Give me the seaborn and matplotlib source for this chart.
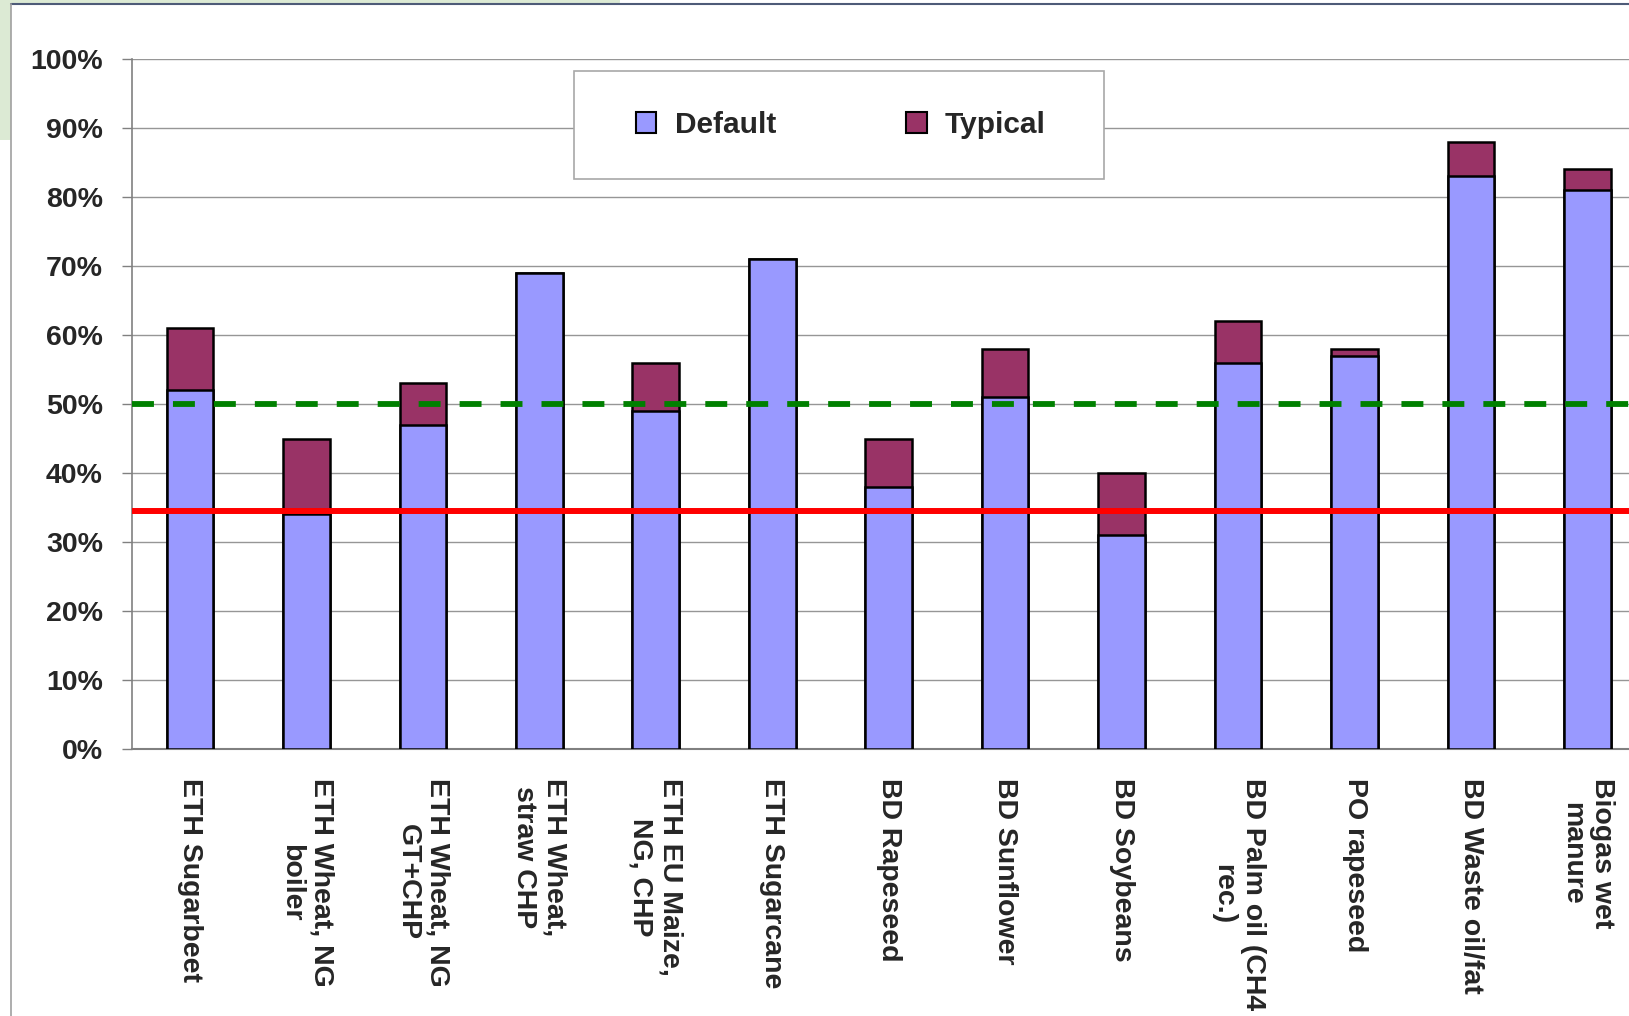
import matplotlib
matplotlib.use("Agg")
import matplotlib.pyplot as plt
from matplotlib import font_manager as fm
from matplotlib.patches import Patch, Rectangle, Ellipse
from matplotlib.lines import Line2D
import pandas as pd
import seaborn as sns

# data (GHG savings, %)
pathways = [
    "ETH Sugarbeet", "ETH Wheat, NG\nboiler", "ETH Wheat, NG\nGT+CHP",
    "ETH Wheat,\nstraw CHP", "ETH EU Maize,\nNG, CHP", "ETH Sugarcane",
    "BD Rapeseed", "BD Sunflower", "BD Soybeans", "BD Palm oil (CH4\nrec.)",
    "PO rapeseed", "BD Waste oil/fat", "Biogas wet\nmanure",
]
default_vals = [52, 34, 47, 69, 49, 71, 38, 51, 31, 56, 57, 83, 81]
typical_vals = [61, 45, 53, 69, 56, 71, 45, 58, 40, 62, 58, 88, 84]
threshold_2017 = 50
threshold_now = 34.5
yticks = list(range(0, 101, 10))

df = pd.DataFrame({"pathway": pathways, "Default": default_vals, "Typical": typical_vals})

c_default = "#9999FF"
c_typical = "#993366"

sns.set_style("white")
plt.rcParams["font.family"] = ["Liberation Sans", "DejaVu Sans"]
plt.rcParams["font.weight"] = "bold"

names = {f.name for f in fm.fontManager.ttflist}
if "Liberation Sans Narrow" in names:
    ytick_font, ytick_size = ["Liberation Sans Narrow", "DejaVu Sans"], 24
else:
    ytick_font, ytick_size = ["Liberation Sans", "DejaVu Sans"], 20.5

W, H = 1629, 1016
fig = plt.figure(figsize=(W / 100, H / 100), dpi=100)

# slide decoration behind the chart
fig.add_artist(Ellipse((0, 1), 2 * 620 / W, 2 * 140 / H, transform=fig.transFigure,
                       facecolor="#dcead4", edgecolor="none", zorder=-3))
fig.add_artist(Rectangle((11 / W, 0), 1 - 11 / W, 1 - 4 / H, transform=fig.transFigure,
                         facecolor="white", edgecolor="none", zorder=-2))
fig.add_artist(Line2D([11 / W, 1], [1 - 4 / H, 1 - 4 / H], transform=fig.transFigure,
                      color="#4e5b78", lw=1.5, zorder=-1))
fig.add_artist(Line2D([11 / W, 11 / W], [0, 1 - 4 / H], transform=fig.transFigure,
                      color="#a0a0a0", lw=1.2, zorder=-1))

ax = fig.add_axes([131.7 / W, (H - 749) / H, (W - 131.7) / W, 690 / H])

sns.barplot(data=df, x="pathway", y="Typical", color=c_typical, edgecolor="black",
            linewidth=1.8, width=0.4, saturation=1, ax=ax, zorder=3)
sns.barplot(data=df, x="pathway", y="Default", color=c_default, edgecolor="black",
            linewidth=1.8, width=0.4, saturation=1, ax=ax, zorder=4)

ax.axhline(threshold_2017, color="#008000", lw=4.2, ls=(0, (3.76, 3.26)), zorder=6)
ax.axhline(threshold_now, color="#ff0000", lw=4.3, zorder=6)

ax.set_yticks(yticks)
ax.set_yticklabels([f"{v}%" for v in yticks], family=ytick_font, size=ytick_size,
                   weight="bold")
ax.yaxis.grid(True, color="#969696", lw=1.0, zorder=0)
ax.set_axisbelow(True)

ax.set_xticks(range(len(pathways)))
ax.set_xticklabels(pathways, rotation=270, ha="center", va="top",
                   multialignment="center", size=20.5, weight="bold")
ax.set_xticks([i - 0.5 for i in range(len(pathways) + 1)], minor=True)
ax.tick_params(axis="x", which="major", length=0, pad=21)
ax.tick_params(axis="x", which="minor", length=7.5, width=1.0, color="#808080",
               direction="out")
ax.tick_params(axis="y", length=7.2, width=1.0, color="#808080", direction="out",
               pad=13.5, left=True)
ax.set_xlabel("")
ax.set_ylabel("")

# limits last, so the tick calls above do not widen them
ax.set_ylim(0, 100)
ax.set_xlim(-0.5, -0.5 + (W - 131.7) / 116.46)

for side in ("top", "right"):
    ax.spines[side].set_visible(False)
ax.spines["left"].set_color("#808080")
ax.spines["left"].set_linewidth(1.2)
ax.spines["bottom"].set_color("#808080")
ax.spines["bottom"].set_linewidth(1.5)

# legend box
fig.add_artist(Rectangle((574 / W, 1 - 179 / H), 530 / W, 108 / H,
                         transform=fig.transFigure, facecolor="white",
                         edgecolor="#a8a8a8", lw=1.2, zorder=4))
handles = [Patch(facecolor=c_default, edgecolor="black", lw=1.5, label="Default"),
           Patch(facecolor=c_typical, edgecolor="black", lw=1.5, label="Typical")]
fig.legend(handles=handles, loc="center", bbox_to_anchor=(841 / W, 1 - 125 / H),
           ncol=2, frameon=False, handlelength=0.68, handleheight=0.68,
           handletextpad=0.62, columnspacing=4.35, prop={"weight": "bold", "size": 21.5})

fig.savefig("out.png", dpi=100)
